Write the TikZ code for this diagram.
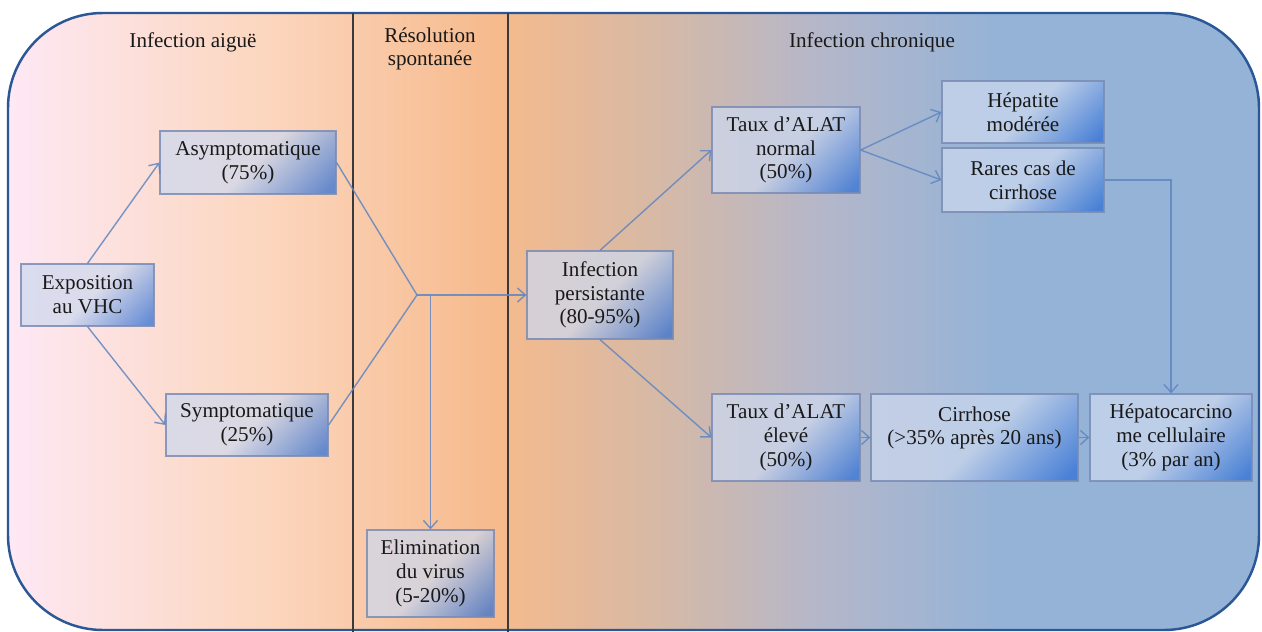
\documentclass[tikz,border=0pt]{standalone}
\usepackage{fontspec}
\setmainfont{Liberation Serif}
\usepackage{xcolor}
\usetikzlibrary{arrows.meta}

\definecolor{bgpink}{HTML}{FDE8F4}
\definecolor{bgpeach}{HTML}{FCD7C0}
\definecolor{bgorange}{HTML}{F6BA8C}
\definecolor{bgtan}{HTML}{D6B9A6}
\definecolor{bggrey}{HTML}{B4B7CA}
\definecolor{bgblue}{HTML}{95B3D7}
\definecolor{frameblue}{HTML}{2B5797}
\definecolor{boxlight}{HTML}{CDD9EF}
\definecolor{boxdark}{HTML}{2E6FD6}
\definecolor{boxline}{HTML}{7A8CB4}
\definecolor{linkblue}{HTML}{5F86C2}
\definecolor{sepgrey}{HTML}{3A3A3A}

\pgfdeclarehorizontalshading{phaseshade}{100bp}{color(0bp)=(bgpink); color(25bp)=(bgpink); color(35bp)=(bgpeach); color(44.5bp)=(bgorange); color(51bp)=(bgtan); color(57.5bp)=(bggrey); color(64.5bp)=(bgblue); color(100bp)=(bgblue)}
\pgfdeclareverticalshading{boxshade}{100bp}{color(0bp)=(boxdark); color(18bp)=(boxdark); color(48bp)=(boxlight); color(100bp)=(boxlight)}

\begin{document}
\begin{tikzpicture}[x=0.02cm, y=-0.02cm,
    box/.style={draw=boxline, draw opacity=0.85, line width=0.7pt, shade, shading=boxshade, shading angle=45,
        fill opacity=0.72, text opacity=1, align=center, inner sep=0pt,
        font=\fontsize{12}{13.5}\selectfont, text=black!90},
    wire/.style={draw=linkblue, draw opacity=0.85, line width=0.8pt},
    link/.style={wire, -{Straight Barb[length=4.5pt,width=8pt]}},
    title/.style={font=\fontsize{12}{13.5}\selectfont, align=center, text=black!90},
    sepline/.style={draw=sepgrey, line width=1.1pt}]
    \useasboundingbox (0,0) rectangle (1262,632);
    \fill[white] (0,0) rectangle (1262,632);

    % Phases background
    \shade[shading=phaseshade, draw=frameblue, line width=1.4pt, rounded corners=1.9cm] (8,13) rectangle (1259,630);
    \draw[sepline] (353,13) -- (353,632);
    \draw[sepline] (508,13) -- (508,632);

    % Phase titles
    \node[title] (acute) at (193,42) {Infection aiguë};
    \node[title] (resol) at (430,49) {Résolution\\spontanée};
    \node[title] (chronic) at (872,42) {Infection chronique};

    % Acute phase
    \node[box, minimum width=2.66cm, minimum height=1.24cm] (expo) at (87.5,295) {Exposition\\au VHC};
    \node[box, minimum width=3.52cm, minimum height=1.26cm] (asym) at (248,162.5) {Asymptomatique\\(75\%)};
    \node[box, minimum width=3.24cm, minimum height=1.24cm] (symp) at (247,425) {Symptomatique\\(25\%)};
    \node[box, minimum width=2.54cm, minimum height=1.74cm] (elim) at (430.5,573.5) {Elimination\\du virus\\(5-20\%)};

    % Chronic phase
    \node[box, minimum width=2.92cm, minimum height=1.76cm] (persist) at (600,295) {Infection\\persistante\\(80-95\%)};
    \node[box, minimum width=2.96cm, minimum height=1.72cm] (normal) at (786,150) {Taux d’ALAT\\normal\\(50\%)};
    \node[box, minimum width=3.24cm, minimum height=1.24cm] (hepat) at (1023,112) {Hépatite\\modérée};
    \node[box, minimum width=3.24cm, minimum height=1.28cm] (rares) at (1023,180) {Rares cas de\\cirrhose};
    \node[box, minimum width=2.96cm, minimum height=1.74cm] (eleve) at (786,437.5) {Taux d’ALAT\\élevé\\(50\%)};
    \node[box, minimum width=4.14cm, minimum height=1.74cm] (cirrh) at (974.5,437.5) {Cirrhose\\(>35\% après 20 ans)\\\mbox{}};
    \node[box, minimum width=3.24cm, minimum height=1.74cm] (hcc) at (1171,437.5) {Hépatocarcino\\me cellulaire\\(3\% par an)};

    % Edges
    \coordinate (junc) at (417,295);
    \draw[link] (expo.north) -- (asym.west);
    \draw[link] (expo.south) -- (symp.west);
    \draw[wire] (asym.east) -- (junc);
    \draw[wire] (symp.east) -- (junc);
    \draw[link] (junc) -- (persist.west);
    \draw[link] (elim.north |- junc) -- (elim.north);
    \draw[link] (persist.north) -- (normal.west);
    \draw[link] (persist.south) -- (eleve.west);
    \draw[link] (normal.east) -- (hepat.west);
    \draw[link] (normal.east) -- (rares.west);
    \draw[link] (eleve.east) -- (cirrh.west);
    \draw[link] (cirrh.east) -- (hcc.west);
    \draw[link] (rares.east) -| (hcc.north);
\end{tikzpicture}
\end{document}
